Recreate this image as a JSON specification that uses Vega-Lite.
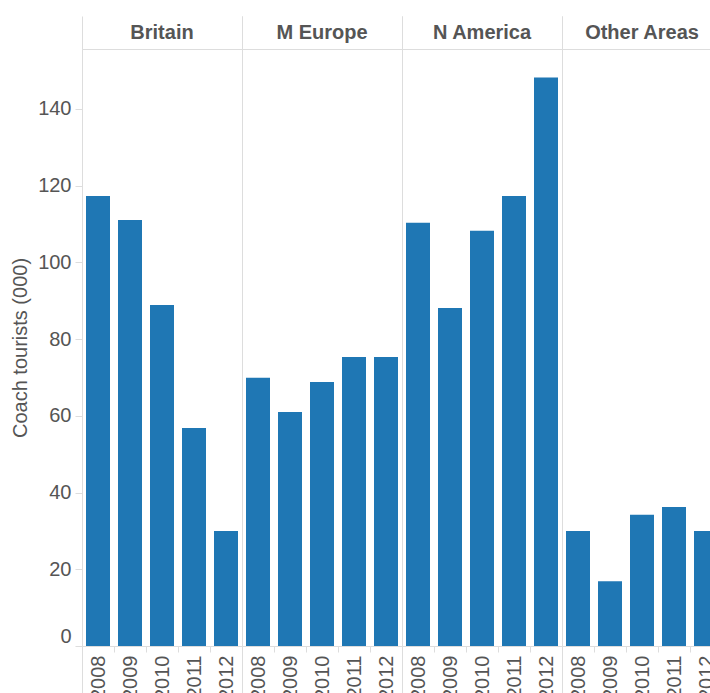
{
  "$schema": "https://vega.github.io/schema/vega-lite/v6.json",
  "padding": {"left": 10, "top": 15, "right": 0, "bottom": 0},
  "bounds": "flush",
  "data": {"values": [
    {"region": "Britain", "year": "2008", "value": 117.3},
    {"region": "Britain", "year": "2009", "value": 111},
    {"region": "Britain", "year": "2010", "value": 88.9},
    {"region": "Britain", "year": "2011", "value": 56.8},
    {"region": "Britain", "year": "2012", "value": 30},
    {"region": "M Europe", "year": "2008", "value": 69.9},
    {"region": "M Europe", "year": "2009", "value": 61},
    {"region": "M Europe", "year": "2010", "value": 68.8},
    {"region": "M Europe", "year": "2011", "value": 75.3},
    {"region": "M Europe", "year": "2012", "value": 75.3},
    {"region": "N America", "year": "2008", "value": 110.3},
    {"region": "N America", "year": "2009", "value": 88.1},
    {"region": "N America", "year": "2010", "value": 108.2},
    {"region": "N America", "year": "2011", "value": 117.3},
    {"region": "N America", "year": "2012", "value": 148.2},
    {"region": "Other Areas", "year": "2008", "value": 30},
    {"region": "Other Areas", "year": "2009", "value": 16.9},
    {"region": "Other Areas", "year": "2010", "value": 34.2},
    {"region": "Other Areas", "year": "2011", "value": 36.2},
    {"region": "Other Areas", "year": "2012", "value": 30}
  ]},
  "facet": {
    "column": {
      "field": "region",
      "type": "nominal",
      "sort": ["Britain", "M Europe", "N America", "Other Areas"],
      "header": {
        "title": null,
        "labelFontSize": 20,
        "labelFontWeight": "bold",
        "labelColor": "#555555",
        "labelFont": "Liberation Sans",
        "labelPadding": -27
      }
    }
  },
  "spacing": 0,
  "spec": {
    "width": 160,
    "height": 597,
    "layer": [
      {
        "mark": {"type": "bar", "color": "#1f77b4", "width": {"band": 0.75}},
        "encoding": {
          "x": {
            "field": "year",
            "type": "ordinal",
            "title": null,
            "scale": {"paddingInner": 0, "paddingOuter": 0},
            "axis": {
              "labelAngle": -90,
              "tickBand": "extent",
              "tickSize": {"condition": {"test": "datum.index === -1 || datum.value === '2012'", "value": 60}, "value": 6},
              "labelPadding": {"condition": {"test": "datum.value === '2012'", "value": -51}, "value": 3}
            }
          },
          "y": {
            "field": "value",
            "type": "quantitative",
            "title": "Coach tourists (000)",
            "scale": {"domain": [0, 155.6], "nice": false},
            "axis": {"grid": false, "labelFlush": true, "tickCount": 8}
          }
        }
      },
      {
        "mark": {"type": "bar", "opacity": 0, "width": {"band": 0.75}},
        "encoding": {
          "x": {
            "field": "year",
            "type": "ordinal",
            "title": null,
            "axis": {
              "orient": "top",
              "labels": false,
              "domain": false,
              "tickBand": "extent",
              "tickSize": {"condition": {"test": "datum.index === -1 || datum.value === '2012'", "value": 33}, "value": 0}
            }
          },
          "y": {"field": "value", "type": "quantitative"}
        }
      }
    ],
    "resolve": {"axis": {"x": "independent"}}
  },
  "config": {
    "font": "Liberation Sans",
    "view": {"stroke": "#dddddd"},
    "axis": {
      "domainColor": "#dddddd",
      "tickColor": "#dddddd",
      "labelColor": "#555555",
      "titleColor": "#555555",
      "labelFontSize": 20,
      "titleFontSize": 20,
      "titleFontWeight": "normal",
      "labelFont": "Liberation Sans",
      "titleFont": "Liberation Sans"
    },
    "axisY": {"tickSize": 7, "labelPadding": 4, "titlePadding": 7}
  }
}
